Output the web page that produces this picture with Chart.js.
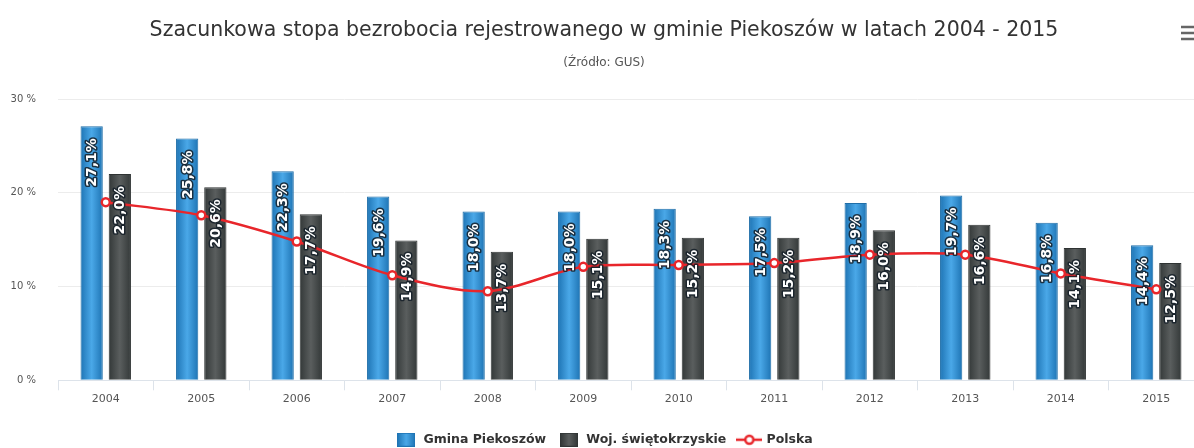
<!DOCTYPE html>
<html>
<head>
<meta charset="utf-8">
<script src="https://cdn.jsdelivr.net/npm/chart.js@4"></script>
<style>
  html, body { margin: 0; padding: 0; background: #fff; overflow: hidden; }
  #wrap { width: 1214px; height: 448px; position: relative; }
</style>
</head>
<body>
<div id="wrap"><canvas id="bezrobocieChart"></canvas></div>
<script>
// Dane
const years = ['2004', '2005', '2006', '2007', '2008', '2009', '2010', '2011', '2012', '2013', '2014', '2015'];
const gminaPiekoszow = [27.1, 25.8, 22.3, 19.6, 18.0, 18.0, 18.3, 17.5, 18.9, 19.7, 16.8, 14.4];
const wojSwietokrzyskie = [22.0, 20.6, 17.7, 14.9, 13.7, 15.1, 15.2, 15.2, 16.0, 16.6, 14.1, 12.5];
const polska = [19.0, 17.6, 14.8, 11.2, 9.5, 12.1, 12.3, 12.5, 13.4, 13.4, 11.4, 9.7];
const yTicks = [0, 10, 20, 30];

const FONT = "'DejaVu Sans', Verdana, sans-serif";
const CAT_PCT = 0.59, BAR_PCT = 0.79;

// legend symbols
function boxSymbol(c1, c2) {
    const c = document.createElement('canvas');
    c.width = 18; c.height = 14;
    const g = c.getContext('2d');
    const grd = g.createLinearGradient(0, 0, 18, 0);
    grd.addColorStop(0, c2); grd.addColorStop(0.5, c1); grd.addColorStop(1, c2);
    g.fillStyle = grd;
    g.fillRect(0, 0, 18, 14);
    g.strokeStyle = c2; g.lineWidth = 1;
    g.strokeRect(0.5, 0.5, 17, 13);
    return c;
}
function lineSymbol() {
    const c = document.createElement('canvas');
    c.width = 26; c.height = 14;
    const g = c.getContext('2d');
    g.strokeStyle = '#e8262b'; g.lineWidth = 2.5;
    g.beginPath(); g.moveTo(0, 7); g.lineTo(26, 7); g.stroke();
    g.fillStyle = '#fff';
    g.beginPath(); g.arc(13, 7, 4, 0, Math.PI * 2); g.fill(); g.stroke();
    return c;
}
const symbols = [boxSymbol('#4aa8e8', '#1e74b4'), boxSymbol('#5a5e5e', '#303535'), lineSymbol()];

// horizontal gradient across each bar
function barFill(side, light, dark) {
    return function (c) {
        const chart = c.chart;
        const xs = chart.scales && chart.scales.x;
        if (c.type !== 'data' || !xs || !xs.width) return light;
        const cat = xs.width / years.length;
        const slot = cat * CAT_PCT / 2;
        const cx = xs.getPixelForValue(c.dataIndex) + side * slot / 2;
        const half = slot * BAR_PCT / 2;
        const g = chart.ctx.createLinearGradient(cx - half, 0, cx + half, 0);
        g.addColorStop(0, dark);
        g.addColorStop(0.5, light);
        g.addColorStop(1, dark);
        return g;
    };
}

// rotated labels inside bars
const barLabels = {
    id: 'barLabels',
    afterDatasetsDraw(chart) {
        const ctx = chart.ctx;
        ctx.save();
        ctx.font = "bold 14px " + FONT;
        ctx.textAlign = 'right';
        ctx.textBaseline = 'middle';
        ctx.lineJoin = 'round';
        [0, 1].forEach(function (di) {
            const meta = chart.getDatasetMeta(di);
            const vals = chart.data.datasets[di].data;
            meta.data.forEach(function (el, i) {
                const txt = vals[i].toFixed(1).replace('.', ',') + '%';
                ctx.save();
                ctx.translate(el.x + 1, el.y + 12);
                ctx.rotate(-Math.PI / 2);
                ctx.strokeStyle = 'rgba(20,30,40,0.85)';
                ctx.lineWidth = 3;
                ctx.strokeText(txt, 0, 0);
                ctx.fillStyle = '#fff';
                ctx.fillText(txt, 0, 0);
                ctx.restore();
            });
        });
        ctx.restore();
    }
};

// export menu icon (top right, partly cut off)
const menuIcon = {
    id: 'menuIcon',
    afterDraw(chart) {
        const ctx = chart.ctx;
        ctx.save();
        ctx.strokeStyle = '#666';
        ctx.lineWidth = 2.5;
        [27, 33, 39].forEach(function (y) {
            ctx.beginPath();
            ctx.moveTo(1181, y);
            ctx.lineTo(1199, y);
            ctx.stroke();
        });
        ctx.restore();
    }
};

const ctx = document.getElementById('bezrobocieChart');
const chart = new Chart(ctx, {
    type: 'bar',
    data: {
        labels: years,
        datasets: [
            {
                label: 'Gmina Piekoszów',
                data: gminaPiekoszow,
                backgroundColor: barFill(-1, '#4aa8e8', '#1e74b4'),
                borderColor: '#1f6ea8',
                borderWidth: 1,
                categoryPercentage: CAT_PCT,
                barPercentage: BAR_PCT,
                order: 2
            },
            {
                label: 'Woj. świętokrzyskie',
                data: wojSwietokrzyskie,
                backgroundColor: barFill(1, '#5a5e5e', '#333838'),
                borderColor: '#2f3333',
                borderWidth: 1,
                categoryPercentage: CAT_PCT,
                barPercentage: BAR_PCT,
                order: 2
            },
            {
                type: 'line',
                label: 'Polska',
                data: polska,
                borderColor: '#e8262b',
                borderWidth: 2.5,
                tension: 0.3,
                pointRadius: 4,
                pointBorderWidth: 2.5,
                pointBackgroundColor: '#fff',
                pointBorderColor: '#e8262b',
                order: 1
            }
        ]
    },
    options: {
        responsive: true,
        maintainAspectRatio: false,
        animation: false,
        layout: { padding: { left: 4, right: 10, top: 0, bottom: -8 } },
        plugins: {
            title: {
                display: true,
                text: 'Szacunkowa stopa bezrobocia rejestrowanego w gminie Piekoszów w latach 2004 - 2015',
                color: '#333',
                font: { family: FONT, size: 20.5, weight: 'normal' },
                padding: { top: 18, bottom: 13 }
            },
            subtitle: {
                display: true,
                text: '(Źródło: GUS)',
                color: '#555',
                font: { family: FONT, size: 12 },
                padding: { top: 0, bottom: 29 }
            },
            legend: {
                position: 'bottom',
                labels: {
                    usePointStyle: true,
                    pointStyleWidth: 22,
                    color: '#333',
                    font: { family: FONT, size: 12.5, weight: 'bold' },
                    padding: 12,
                    generateLabels(chart) {
                        return chart.data.datasets.map(function (ds, i) {
                            return {
                                text: ds.label,
                                pointStyle: symbols[i],
                                fillStyle: 'transparent',
                                strokeStyle: 'transparent',
                                lineWidth: 0,
                                datasetIndex: i,
                                fontColor: '#333'
                            };
                        });
                    }
                }
            },
            tooltip: { enabled: false }
        },
        scales: {
            x: {
                grid: {
                    offset: true,
                    drawOnChartArea: false,
                    drawTicks: true,
                    tickLength: 10,
                    color: '#dde3ea'
                },
                border: { color: '#dde3ea' },
                ticks: { color: '#555', font: { family: FONT, size: 11 }, padding: 2 },
                afterFit(scale) { scale.height += 14; }
            },
            y: {
                min: 0,
                max: 30,
                afterBuildTicks(axis) { axis.ticks = yTicks.map(function (v) { return { value: v }; }); },
                afterFit(scale) { scale.width = 54; },
                grid: { color: '#ececec', drawTicks: false },
                border: { display: false },
                ticks: {
                    color: '#555',
                    font: { family: FONT, size: 10 },
                    padding: 22,
                    callback: function (v) { return v + ' %'; }
                }
            }
        }
    },
    plugins: [barLabels, menuIcon]
});
</script>
</body>
</html>
